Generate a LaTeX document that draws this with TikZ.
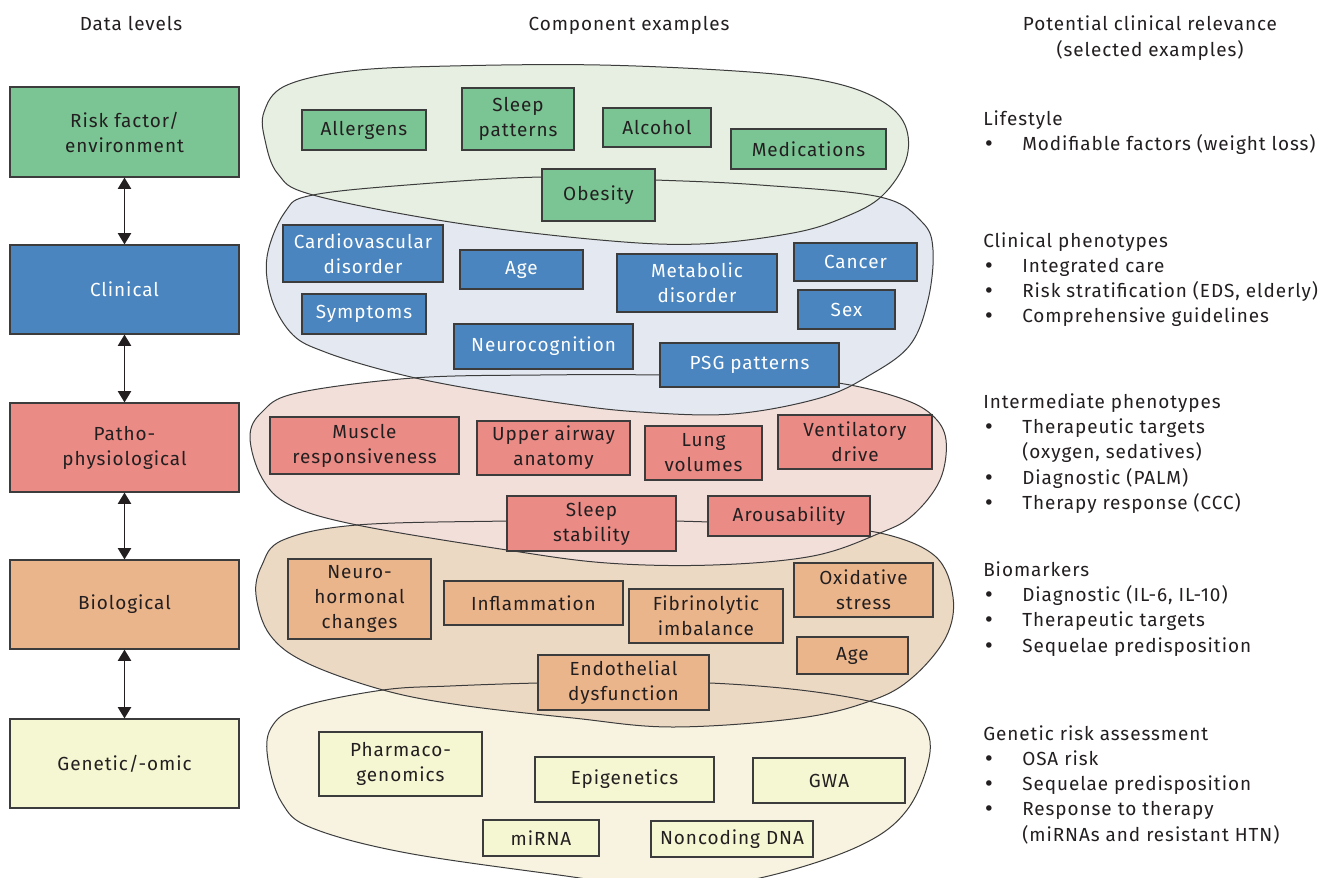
\documentclass[tikz,border=0pt]{standalone}
\usepackage{fontspec}
\setmainfont{Fira Sans}[LetterSpace=5]
\newfontfamily\bulfont{DejaVu Sans}
\usetikzlibrary{arrows.meta}
\definecolor{txt}{HTML}{231F20}
\definecolor{bord}{HTML}{3C3C3C}
\definecolor{gbox}{HTML}{7BC594}
\definecolor{gblob}{HTML}{E6EFE1}
\definecolor{bbox}{HTML}{4A85BF}
\definecolor{bblob}{HTML}{E4E9F1}
\definecolor{pbox}{HTML}{EA8B86}
\definecolor{pblob}{HTML}{F3DFDA}
\definecolor{tbox}{HTML}{EBB58C}
\definecolor{tblob}{HTML}{EBD9C4}
\definecolor{cbox}{HTML}{F5F6D2}
\definecolor{cblob}{HTML}{F8F3E0}
\newcommand\bx[7]{\node[#2, minimum width={0.75pt*(#5-#3)}, minimum height={0.75pt*(#6-#4)}] (#1) at ({(#3+#5)/2},{(#4+#6)/2+1}) {#7};}
\newcommand\blobfill[2]{\edef\tmpblob{\noexpand\fill[#1] plot[smooth cycle, tension=0.6] coordinates {#2};}\tmpblob}
\newcommand\blobline[1]{\edef\tmpblob{\noexpand\draw[blobline] plot[smooth cycle, tension=0.6] coordinates {#1};}\tmpblob}
\newcommand\bul{{\bulfont\textbullet}}
\def\blobG{(264,112) (285,86) (350,71) (450,66) (600,65) (750,72) (830,82) (880,100) (905,125) (906,160) (882,196) (845,217) (793,233) (700,244) (600,240) (450,222) (313,195) (278,174) (265,140)}
\def\blobB{(267,257) (285,212) (313,195) (420,184) (543,177) (655,180) (760,185) (880,197) (922,222) (933,250) (928,300) (910,345) (870,375) (820,398) (733,414) (640,412) (560,403) (450,385) (383,370) (325,352) (293,335) (272,300)}
\def\blobP{(250,437) (262,412) (297,393) (413,378) (540,375) (660,375) (760,378) (838,383) (900,398) (932,415) (946,440) (940,480) (913,515) (880,533) (813,556) (713,565) (607,563) (507,550) (357,525) (290,505) (262,478)}
\def\blobT{(256,595) (262,565) (283,540) (357,525) (507,521) (610,520) (710,522) (800,526) (880,533) (935,556) (953,597) (946,637) (913,677) (873,700) (800,718) (673,727) (573,718) (460,705) (383,690) (307,663) (270,635)}
\def\blobC{(383,690) (300,707) (271,728) (268,760) (282,803) (312,828) (407,853) (573,877) (665,890) (760,878) (857,847) (907,810) (930,752) (917,717) (873,702) (800,690) (710,683) (620,682) (538,683) (450,686)}
\begin{document}
\begin{tikzpicture}[x=0.75pt,y=-0.75pt,
  every node/.style={font=\fontsize{14.2}{18.75}\selectfont, text=txt},
  boxbase/.style={rectangle, draw=bord, line width=0.9pt, inner sep=0pt, align=center},
  gb/.style={boxbase, fill=gbox},
  bb/.style={boxbase, fill=bbox, text=white},
  pb/.style={boxbase, fill=pbox},
  tb/.style={boxbase, fill=tbox},
  cb/.style={boxbase, fill=cbox},
  blobline/.style={draw=bord, line width=0.75pt},
  arr/.style={line width=1.1pt, draw=txt, {Triangle[width=10pt,length=8.5pt]}-{Triangle[width=10pt,length=8.5pt]}},
  lbl/.style={anchor=base west, inner sep=0pt},
  hdr/.style={anchor=base, inner sep=0pt}]
\useasboundingbox (0,0) rectangle (1332,878);
\fill[white] (0,0) rectangle (1332,878);
% blobs: fills from bottom to top, then outlines
\blobfill{cblob}{\blobC}
\blobfill{tblob}{\blobT}
\blobfill{pblob}{\blobP}
\blobfill{bblob}{\blobB}
\blobfill{gblob}{\blobG}
\blobline{\blobC}
\blobline{\blobT}
\blobline{\blobP}
\blobline{\blobB}
\blobline{\blobG}
% headers
\node[hdr] (h1) at (131,30) {Data levels};
\node[hdr] (h2) at (629,30) {Component examples};
\node[hdr] (h3) at (1150,30) {Potential clinical relevance};
\node[hdr] (h4) at (1150,56) {(selected examples)};
% left column
\bx{risk}{gb}{10}{86}{239}{176}{Risk factor/\\environment}
\bx{clin}{bb}{10}{244}{239}{333}{Clinical}
\bx{patho}{pb}{10}{402}{239}{491}{Patho-\\physiological}
\bx{bio}{tb}{10}{559}{239}{648}{Biological}
\bx{gen}{cb}{10}{718}{239}{807}{Genetic/-omic}
\draw[arr] (risk.south) -- (clin.north);
\draw[arr] (clin.south) -- (patho.north);
\draw[arr] (patho.south) -- (bio.north);
\draw[arr] (bio.south) -- (gen.north);
% green
\bx{allerg}{gb}{302}{109}{426}{149}{Allergens}
\bx{sleepp}{gb}{462}{87}{574}{149}{Sleep\\patterns}
\bx{alco}{gb}{603}{107}{711}{146}{Alcohol}
\bx{medic}{gb}{731}{128}{886}{168}{Medications}
\bx{obes}{gb}{542}{168}{655}{220}{Obesity}
% blue
\bx{cardio}{bb}{283}{224}{443}{281}{Cardiovascular\\disorder}
\bx{age1}{bb}{460}{249}{583}{288}{Age}
\bx{metab}{bb}{617}{253}{777}{311}{Metabolic\\disorder}
\bx{cancer}{bb}{794}{242}{917}{280}{Cancer}
\bx{sex}{bb}{798}{289}{895}{328}{Sex}
\bx{sympt}{bb}{302}{293}{426}{333}{Symptoms}
\bx{neuroc}{bb}{454}{323}{633}{368}{Neurocognition}
\bx{psg}{bb}{660}{342}{839}{386}{PSG patterns}
% pink
\bx{muscle}{pb}{270}{416}{459}{473}{Muscle\\responsiveness}
\bx{upper}{pb}{477}{420}{630}{474}{Upper airway\\anatomy}
\bx{lung}{pb}{645}{425}{762}{479}{Lung\\volumes}
\bx{vent}{pb}{778}{414}{932}{468}{Ventilatory\\drive}
\bx{sstab}{pb}{507}{495}{676}{550}{Sleep\\stability}
\bx{arous}{pb}{708}{495}{870}{535}{Arousability}
% tan
\bx{neuroh}{tb}{288}{558}{431}{638}{Neuro-\\hormonal\\changes}
\bx{inflam}{tb}{444}{580}{623}{624}{Inflammation}
\bx{fibrin}{tb}{629}{588}{783}{642}{Fibrinolytic\\imbalance}
\bx{oxid}{tb}{794}{562}{933}{616}{Oxidative\\stress}
\bx{age2}{tb}{797}{636}{908}{673}{Age}
\bx{endo}{tb}{538}{654}{709}{709}{Endothelial\\dysfunction}
% cream
\bx{pharm}{cb}{319}{731}{482}{795}{Pharmaco-\\genomics}
\bx{epig}{cb}{535}{756}{714}{801}{Epigenetics}
\bx{gwa}{cb}{753}{757}{905}{802}{GWA}
\bx{mirna}{cb}{483}{819}{599}{855}{miRNA}
\bx{noncod}{cb}{651}{820}{813}{856}{Noncoding DNA}
% right column
\node[lbl] (r1) at (983,125) {Lifestyle};
\node[lbl] (r1a) at (983,150) {\bul};
\node[lbl] (r1b) at (1022,150) {Modifiable factors (weight loss)};
\node[lbl] (r2) at (983,247) {Clinical phenotypes};
\node[lbl] (r2a) at (983,272) {\bul};
\node[lbl] (r2b) at (1022,272) {Integrated care};
\node[lbl] (r2c) at (983,297) {\bul};
\node[lbl] (r2d) at (1022,297) {Risk stratification (EDS, elderly)};
\node[lbl] (r2e) at (983,322) {\bul};
\node[lbl] (r2f) at (1022,322) {Comprehensive guidelines};
\node[lbl] (r3) at (983,408) {Intermediate phenotypes};
\node[lbl] (r3a) at (983,433) {\bul};
\node[lbl] (r3b) at (1022,433) {Therapeutic targets};
\node[lbl] (r3c) at (1022,458) {(oxygen, sedatives)};
\node[lbl] (r3d) at (983,484) {\bul};
\node[lbl] (r3e) at (1022,484) {Diagnostic (PALM)};
\node[lbl] (r3f) at (983,509) {\bul};
\node[lbl] (r3g) at (1022,509) {Therapy response (CCC)};
\node[lbl] (r4) at (983,576) {Biomarkers};
\node[lbl] (r4a) at (983,601) {\bul};
\node[lbl] (r4b) at (1022,601) {Diagnostic (IL-6, IL-10)};
\node[lbl] (r4c) at (983,626) {\bul};
\node[lbl] (r4d) at (1022,626) {Therapeutic targets};
\node[lbl] (r4e) at (983,652) {\bul};
\node[lbl] (r4f) at (1022,652) {Sequelae predisposition};
\node[lbl] (r5) at (983,740) {Genetic risk assessment};
\node[lbl] (r5a) at (983,765) {\bul};
\node[lbl] (r5b) at (1022,765) {OSA risk};
\node[lbl] (r5c) at (983,790) {\bul};
\node[lbl] (r5d) at (1022,790) {Sequelae predisposition};
\node[lbl] (r5e) at (983,815) {\bul};
\node[lbl] (r5f) at (1022,815) {Response to therapy};
\node[lbl] (r5g) at (1022,841) {(miRNAs and resistant HTN)};
\end{tikzpicture}
\end{document}
